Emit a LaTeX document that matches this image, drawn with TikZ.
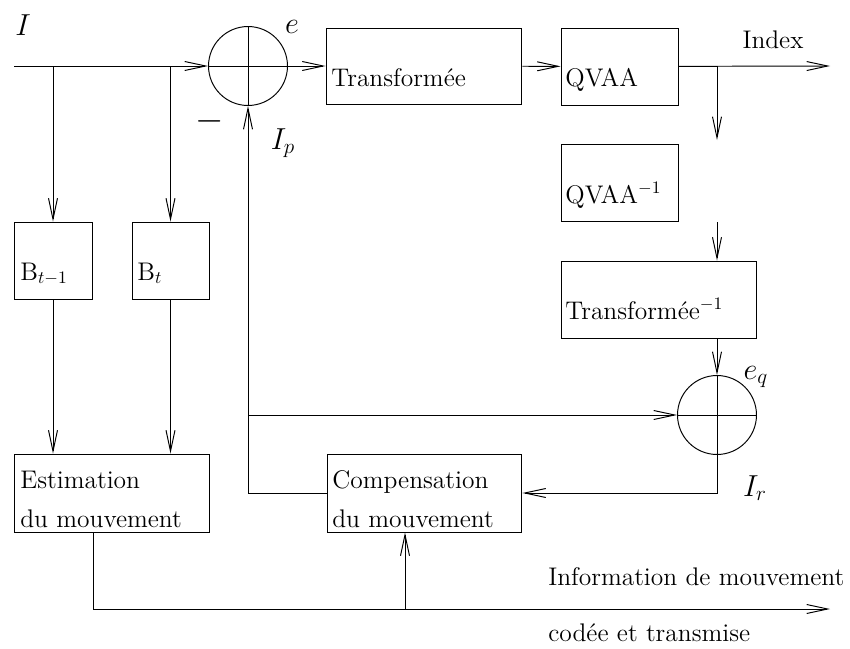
\documentclass[tikz,border=0pt]{standalone}
\usepackage{amsmath}
\usepackage{tikz}
\usetikzlibrary{arrows.meta, shapes, positioning}

\tikzset{
  blk/.style={draw, rectangle, inner sep=0pt, line width=0.55pt},
  sumnode/.style={draw, circle, inner sep=0pt, minimum size=15.8mm, line width=0.55pt,
    path picture={\draw[line width=0.55pt] (path picture bounding box.north) -- (path picture bounding box.south)
      (path picture bounding box.west) -- (path picture bounding box.east);}},
  lbl/.style={anchor=base west, inner sep=0pt},
  sig/.style={font=\fontsize{17.5}{20}\selectfont},
  flow/.style={line width=0.55pt, -{Straight Barb[length=4.2mm, width=1.8mm]}}
}

\begin{document}
\begin{tikzpicture}[x=0.02cm, y=-0.02cm, font=\fontsize{14.5}{17}\selectfont]
				\useasboundingbox (0, 0) rectangle (850, 649);

				\node (I) [sig] at (23, 25) {$I$};
				\coordinate (In) at (14, 66);
				\node (Sum1) [sumnode] at (248, 66) {};
				\node (e) [sig] at (292, 27) {$e$};
				\node (Minus) at (210, 121) {\fontsize{22}{22}\selectfont$-$};
				\node (Ip) [sig] at (283, 143) {$I_{p}$};
				\draw[flow] (In) -- (Sum1);

				\node (Trans) [blk, minimum width=39.2mm, minimum height=15.2mm] at (424, 66) {};
				\node (tTrans) [lbl] at (331, 87) {Transformée};
				\draw[flow] (Sum1) -- (Trans);

				\node (Qvaa) [blk, minimum width=23.4mm, minimum height=15.4mm] at (619.5, 66.5) {};
				\node (tQvaa) [lbl] at (565, 87) {QVAA};
				\draw[flow] (Trans) -- (Qvaa);

				\coordinate (Out) at (830, 66);
				\node (Index) at (773, 40) {Index};
				\draw[flow] (Qvaa) -- (Out);

				\coordinate (Split) at (717, 66);
				\coordinate (Stub1) at (717, 140);
				\draw[flow] (Split) -- (Stub1);

				\node (IQvaa) [blk, minimum width=23.4mm, minimum height=15.4mm] at (619.5, 182.5) {};
				\node (tIQvaa) [lbl] at (565, 203) {QVAA$^{-1}$};

				\coordinate (Stub2) at (717, 222);
				\node (ITrans) [blk, minimum width=39mm, minimum height=15.4mm] at (658.5, 299.5) {};
				\node (tITrans) [lbl] at (565, 319) {Transformée$^{-1}$};
				\draw[flow] (Stub2) -- (Stub2 |- ITrans.north);

				\node (Sum2) [sumnode] at (717, 415) {};
				\node (eq) [sig] at (756, 377) {$e_{q}$};
				\node (Ir) [sig] at (755, 488) {$I_{r}$};
				\draw[flow] (Sum2 |- ITrans.south) -- (Sum2);

				% blocs de gauche
				\node (Bprev) [blk, minimum width=15.6mm, minimum height=15.4mm] at (53, 260.5) {};
				\node (tBprev) [lbl] at (20, 280) {B$_{t-1}$};
				\node (Bcur) [blk, minimum width=15.4mm, minimum height=15.4mm] at (170.5, 260.5) {};
				\node (tBcur) [lbl] at (137, 280) {B$_{t}$};
				\draw[flow] (Bprev |- In) -- (Bprev);
				\draw[flow] (Bcur |- In) -- (Bcur);

				\node (Estim) [blk, minimum width=39.2mm, minimum height=15.6mm] at (112, 493) {};
				\node (tEst1) [lbl] at (20, 488) {Estimation};
				\node (tEst2) [lbl] at (20, 527) {du mouvement};
				\draw[flow] (Bprev) -- (Bprev |- Estim.north);
				\draw[flow] (Bcur) -- (Bcur |- Estim.north);

				\node (Comp) [blk, minimum width=39mm, minimum height=15.6mm] at (424.5, 493) {};
				\node (tComp1) [lbl] at (332, 488) {Compensation};
				\node (tComp2) [lbl] at (332, 527) {du mouvement};

				% boucle de retour
				\draw[flow] (Sum2) -- (Sum2 |- Comp) -- (Comp);
				\draw[flow] (Comp.west) -| (Sum1);
				\coordinate (Fb) at (Sum1 |- Sum2);
				\draw[flow] (Fb) -- (Sum2);

				% information de mouvement
				\coordinate (Mv) at (93, 609);
				\coordinate (MvOut) at (830, 609);
				\coordinate (MvSplit) at (405, 609);
				\draw[flow] (Estim.south -| Mv) -- (Mv) -- (MvOut);
				\draw[flow] (MvSplit) -- (MvSplit |- Comp.south);
				\node (Info) [lbl] at (548, 585) {Information de mouvement};
				\node (Coded) [lbl] at (548, 641) {codée et transmise};
			\end{tikzpicture}
\end{document}
